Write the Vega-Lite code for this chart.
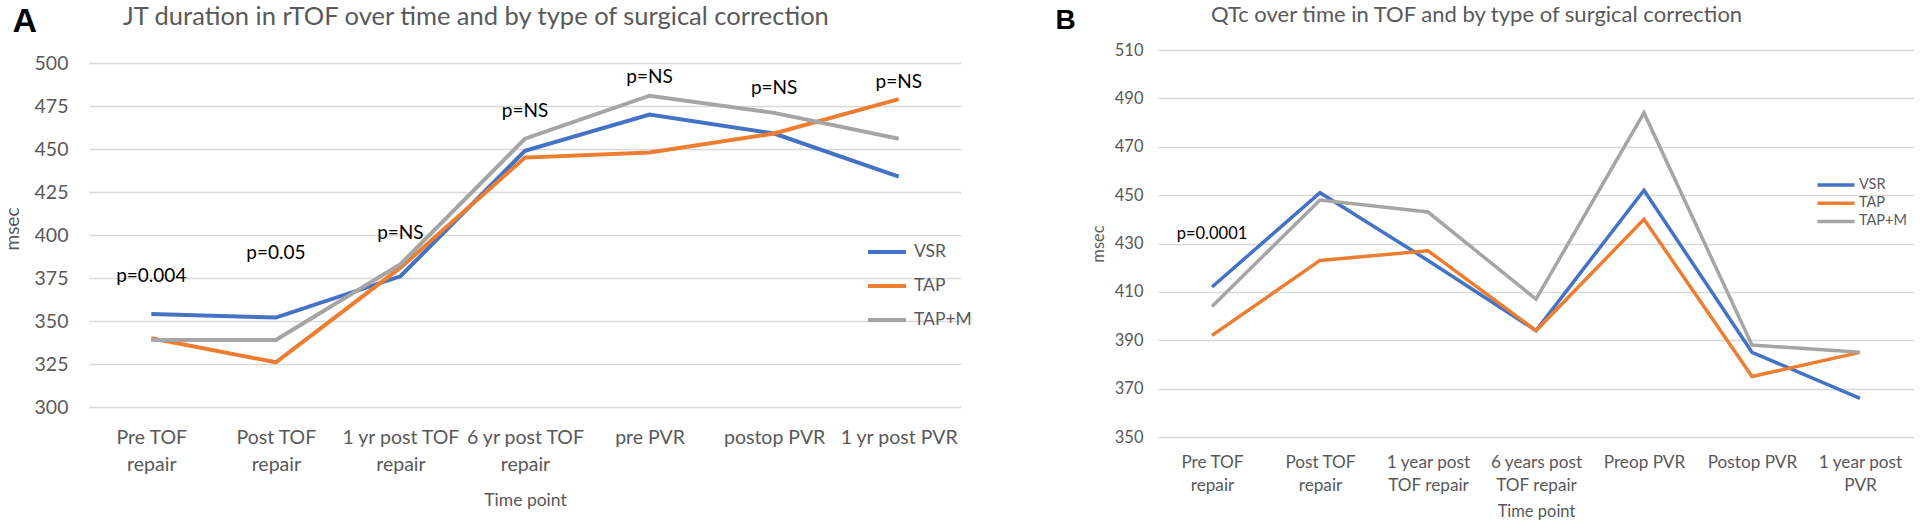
{
  "$schema": "https://vega.github.io/schema/vega-lite/v6.json",
  "background": "white",
  "padding": {"left": 3, "top": 3, "right": 0, "bottom": 0},
  "config": {"view": {"stroke": null}, "font": "Lato"},
  "spacing": 197,
  "bounds": "flush",
  "resolve": {"scale": {"color": "independent"}, "legend": {"color": "independent"}},
  "datasets": {
    "jt": [
      {"time": "Pre TOF repair", "group": "VSR", "msec": 354},
      {"time": "Post TOF repair", "group": "VSR", "msec": 352},
      {"time": "1 yr post TOF repair", "group": "VSR", "msec": 376},
      {"time": "6 yr post TOF repair", "group": "VSR", "msec": 449},
      {"time": "pre PVR", "group": "VSR", "msec": 470},
      {"time": "postop PVR", "group": "VSR", "msec": 459},
      {"time": "1 yr post PVR", "group": "VSR", "msec": 434},
      {"time": "Pre TOF repair", "group": "TAP", "msec": 340},
      {"time": "Post TOF repair", "group": "TAP", "msec": 326},
      {"time": "1 yr post TOF repair", "group": "TAP", "msec": 381},
      {"time": "6 yr post TOF repair", "group": "TAP", "msec": 445},
      {"time": "pre PVR", "group": "TAP", "msec": 448},
      {"time": "postop PVR", "group": "TAP", "msec": 459},
      {"time": "1 yr post PVR", "group": "TAP", "msec": 479},
      {"time": "Pre TOF repair", "group": "TAP+M", "msec": 339},
      {"time": "Post TOF repair", "group": "TAP+M", "msec": 339},
      {"time": "1 yr post TOF repair", "group": "TAP+M", "msec": 383},
      {"time": "6 yr post TOF repair", "group": "TAP+M", "msec": 456},
      {"time": "pre PVR", "group": "TAP+M", "msec": 481},
      {"time": "postop PVR", "group": "TAP+M", "msec": 471},
      {"time": "1 yr post PVR", "group": "TAP+M", "msec": 456}
    ],
    "jtp": [
      {"time": "Pre TOF repair", "msec": 376, "label": "p=0.004"},
      {"time": "Post TOF repair", "msec": 389.5, "label": "p=0.05"},
      {"time": "1 yr post TOF repair", "msec": 401, "label": "p=NS"},
      {"time": "6 yr post TOF repair", "msec": 472, "label": "p=NS"},
      {"time": "pre PVR", "msec": 492, "label": "p=NS"},
      {"time": "postop PVR", "msec": 485.5, "label": "p=NS"},
      {"time": "1 yr post PVR", "msec": 489, "label": "p=NS"}
    ],
    "qtc": [
      {"time": "Pre TOF repair", "group": "VSR", "msec": 412},
      {"time": "Post TOF repair", "group": "VSR", "msec": 451},
      {"time": "1 year post TOF repair", "group": "VSR", "msec": 423},
      {"time": "6 years post TOF repair", "group": "VSR", "msec": 394},
      {"time": "Preop PVR", "group": "VSR", "msec": 452},
      {"time": "Postop PVR", "group": "VSR", "msec": 385},
      {"time": "1 year post PVR", "group": "VSR", "msec": 366},
      {"time": "Pre TOF repair", "group": "TAP", "msec": 392},
      {"time": "Post TOF repair", "group": "TAP", "msec": 423},
      {"time": "1 year post TOF repair", "group": "TAP", "msec": 427},
      {"time": "6 years post TOF repair", "group": "TAP", "msec": 394},
      {"time": "Preop PVR", "group": "TAP", "msec": 440},
      {"time": "Postop PVR", "group": "TAP", "msec": 375},
      {"time": "1 year post PVR", "group": "TAP", "msec": 385},
      {"time": "Pre TOF repair", "group": "TAP+M", "msec": 404},
      {"time": "Post TOF repair", "group": "TAP+M", "msec": 448},
      {"time": "1 year post TOF repair", "group": "TAP+M", "msec": 443},
      {"time": "6 years post TOF repair", "group": "TAP+M", "msec": 407},
      {"time": "Preop PVR", "group": "TAP+M", "msec": 484},
      {"time": "Postop PVR", "group": "TAP+M", "msec": 388},
      {"time": "1 year post PVR", "group": "TAP+M", "msec": 385}
    ],
    "qtcp": [
      {"time": "Pre TOF repair", "msec": 434, "label": "p=0.0001"}
    ]
  },
  "hconcat": [
    {
      "width": 872,
      "height": 357,
      "title": {"text": "JT duration in rTOF over time and by type of surgical correction", "anchor": "start", "frame": "group", "dx": 34, "offset": -26, "fontSize": 25.5, "font": "Lato", "fontWeight": "normal", "color": "#595959"},
      "layer": [
        {
          "data": {"name": "jt"},
          "mark": {"type": "line", "strokeWidth": 4},
          "encoding": {
            "x": {"field": "time", "type": "nominal", "sort": ["Pre TOF repair", "Post TOF repair", "1 yr post TOF repair", "6 yr post TOF repair", "pre PVR", "postop PVR", "1 yr post PVR"], "scale": {"type": "point", "padding": 0.5},
              "axis": {"title": "Time point", "labelAngle": 0, "ticks": false, "domain": false, "grid": false, "labelFontSize": 19.5, "labelColor": "#595959", "labelLineHeight": 27, "labelPadding": 21, "labelExpr": "indexof(datum.label, ' repair') > 0 ? [slice(datum.label, 0, indexof(datum.label, ' repair')), 'repair'] : datum.label", "titleFontSize": 17.5, "titleFontWeight": "normal", "titleColor": "#595959", "titlePadding": 18}},
            "y": {"field": "msec", "type": "quantitative", "scale": {"domain": [300, 507.56], "nice": false, "zero": false},
              "axis": {"title": "msec", "values": [300, 325, 350, 375, 400, 425, 450, 475, 500], "ticks": false, "domain": false, "gridColor": "#d9d9d9", "gridWidth": 1.5, "labelFontSize": 19.5, "labelColor": "#595959", "labelPadding": 21, "titleFontSize": 19, "titleFontWeight": "normal", "titleColor": "#595959", "titlePadding": 12}},
            "color": {"field": "group", "type": "nominal", "scale": {"domain": ["VSR", "TAP", "TAP+M"], "range": ["#4472C4", "#ED7D31", "#A5A5A5"]},
              "legend": {"title": null, "orient": "none", "legendX": 777, "legendY": 181, "symbolType": "stroke", "symbolSize": 1444, "symbolStrokeWidth": 4, "labelFontSize": 17.5, "labelColor": "#595959", "labelOffset": 6, "rowPadding": 4}}
          }
        },
        {
          "data": {"name": "jtp"},
          "mark": {"type": "text", "fontSize": 19, "font": "Lato", "color": "black", "baseline": "middle"},
          "encoding": {
            "x": {"field": "time", "type": "nominal", "sort": ["Pre TOF repair", "Post TOF repair", "1 yr post TOF repair", "6 yr post TOF repair", "pre PVR", "postop PVR", "1 yr post PVR"],
              "axis": {"orient": "top", "title": "A", "labels": false, "ticks": false, "domain": false, "grid": false, "titleFontSize": 34, "titleFontWeight": "bold", "titleFont": "Liberation Sans", "titleColor": "black", "titleX": -77, "titleY": -29, "titleAlign": "left", "titleBaseline": "middle"}},
            "y": {"field": "msec", "type": "quantitative"},
            "text": {"field": "label"}
          }
        }
      ],
      "resolve": {"axis": {"x": "independent"}}
    },
    {
      "width": 756,
      "height": 387,
      "title": {"text": "QTc over time in TOF and by type of surgical correction", "anchor": "start", "frame": "group", "dx": 53, "offset": -20.5, "fontSize": 22, "font": "Lato", "fontWeight": "normal", "color": "#595959"},
      "layer": [
        {
          "data": {"name": "qtc"},
          "mark": {"type": "line", "strokeWidth": 3.5},
          "encoding": {
            "x": {"field": "time", "type": "nominal", "sort": ["Pre TOF repair", "Post TOF repair", "1 year post TOF repair", "6 years post TOF repair", "Preop PVR", "Postop PVR", "1 year post PVR"], "scale": {"type": "point", "padding": 0.5},
              "axis": {"title": "Time point", "labelAngle": 0, "ticks": false, "domain": false, "grid": false, "labelFontSize": 17.2, "labelColor": "#595959", "labelLineHeight": 23, "labelPadding": 16, "labelExpr": "datum.label == 'Pre TOF repair' ? ['Pre TOF','repair'] : datum.label == 'Post TOF repair' ? ['Post TOF','repair'] : datum.label == '1 year post TOF repair' ? ['1 year post','TOF repair'] : datum.label == '6 years post TOF repair' ? ['6 years post','TOF repair'] : datum.label == '1 year post PVR' ? ['1 year post','PVR'] : datum.label", "titleFontSize": 16.5, "titleFontWeight": "normal", "titleColor": "#595959", "titlePadding": 10}},
            "y": {"field": "msec", "type": "quantitative", "scale": {"domain": [350, 510], "nice": false, "zero": false},
              "axis": {"title": "msec", "values": [350, 370, 390, 410, 430, 450, 470, 490, 510], "ticks": false, "domain": false, "gridColor": "#d9d9d9", "gridWidth": 1.5, "labelFontSize": 16.5, "labelColor": "#595959", "labelPadding": 15, "titleFontSize": 16.5, "titleFontWeight": "normal", "titleColor": "#595959", "titlePadding": 8}},
            "color": {"field": "group", "type": "nominal", "scale": {"domain": ["VSR", "TAP", "TAP+M"], "range": ["#4472C4", "#ED7D31", "#A5A5A5"]},
              "legend": {"title": null, "orient": "none", "legendX": 670, "legendY": 127, "symbolType": "M-3,0H3", "symbolSize": 152, "symbolStrokeWidth": 3.5, "labelFontSize": 14.5, "labelColor": "#595959", "labelOffset": 15, "rowPadding": 3.2}}
          }
        },
        {
          "data": {"name": "qtcp"},
          "mark": {"type": "text", "fontSize": 16.5, "font": "Lato", "color": "black", "baseline": "middle"},
          "encoding": {
            "x": {"field": "time", "type": "nominal", "sort": ["Pre TOF repair", "Post TOF repair", "1 year post TOF repair", "6 years post TOF repair", "Preop PVR", "Postop PVR", "1 year post PVR"],
              "axis": {"orient": "top", "title": "B", "labels": false, "ticks": false, "domain": false, "grid": false, "titleFontSize": 28, "titleFontWeight": "bold", "titleFont": "Liberation Sans", "titleColor": "black", "titleX": -103, "titleY": -30, "titleAlign": "left", "titleBaseline": "middle"}},
            "y": {"field": "msec", "type": "quantitative"},
            "text": {"field": "label"}
          }
        }
      ],
      "resolve": {"axis": {"x": "independent"}}
    }
  ]
}
